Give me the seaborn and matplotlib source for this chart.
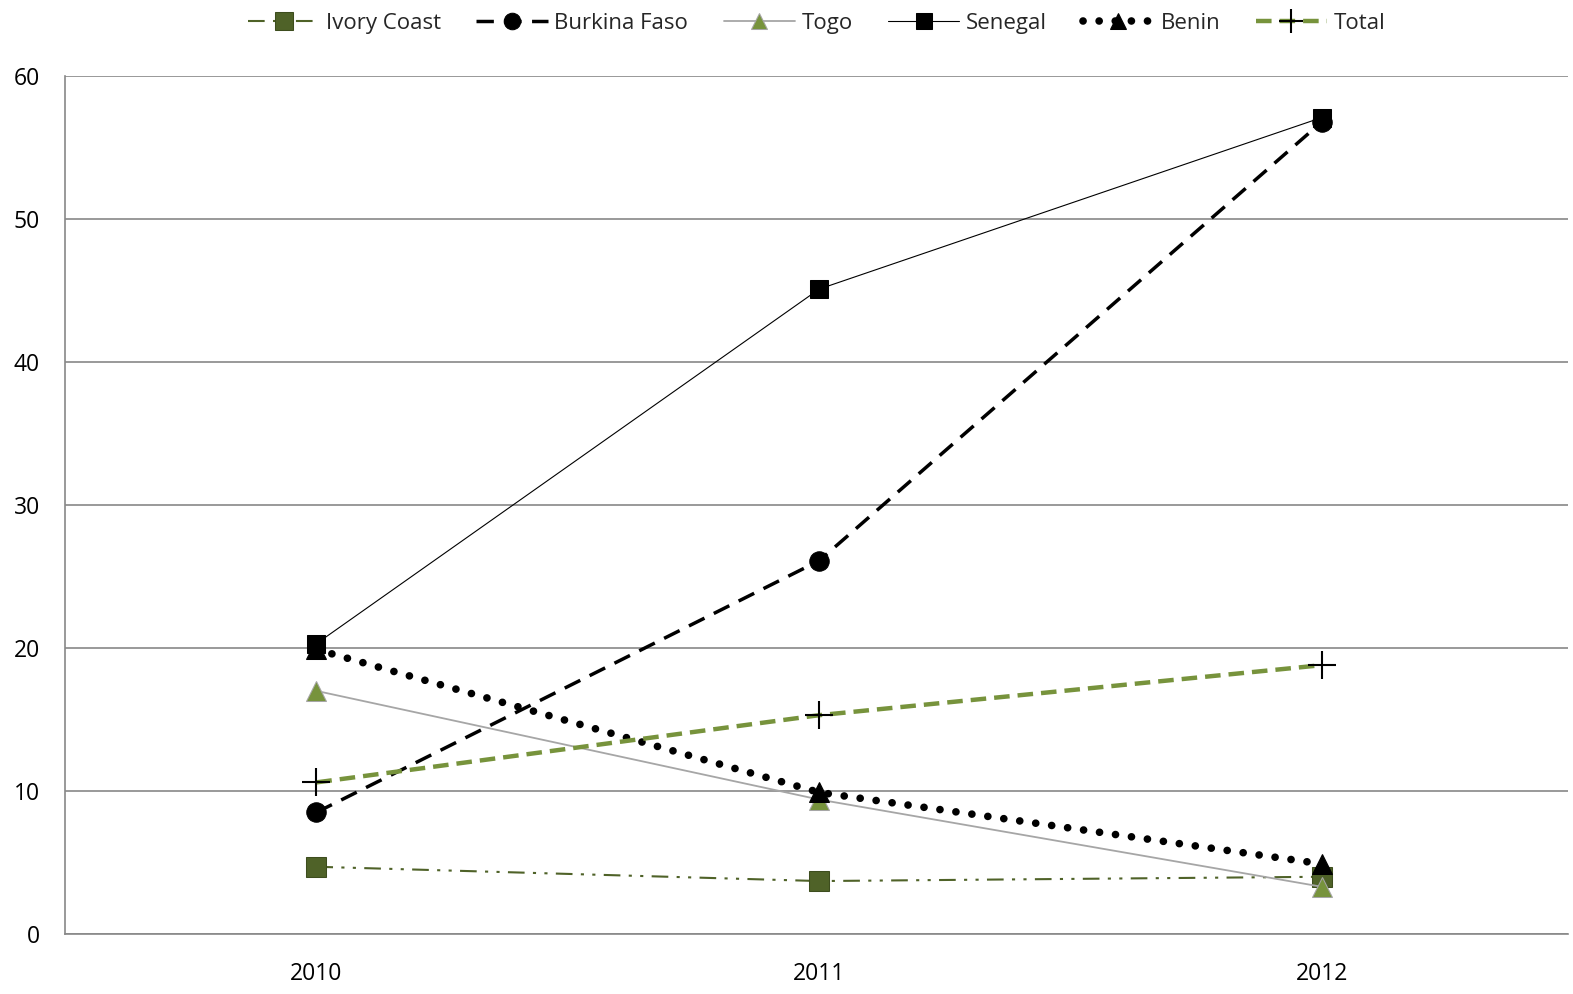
import matplotlib
matplotlib.use("Agg")
import matplotlib.pyplot as plt
import seaborn as sns
import pandas as pd

years = ["2010", "2011", "2012"]
ivory_coast = [4.7, 3.7, 4.0]
burkina_faso = [8.5, 26.1, 56.8]
togo = [17.0, 9.4, 3.3]
senegal = [20.3, 45.1, 57.1]
benin = [19.9, 9.9, 4.9]
total = [10.6, 15.3, 18.8]

series = {
    "Ivory Coast": ivory_coast,
    "Burkina Faso": burkina_faso,
    "Togo": togo,
    "Senegal": senegal,
    "Benin": benin,
    "Total": total,
}

styles = {
    "Ivory Coast": dict(color="#4F6228", lw=1.5, ls=(0, (8, 4, 1.5, 4, 1.5, 4)),
                        marker="s", ms=15, mfc="#4F6228", mec="#3d4d1e"),
    "Burkina Faso": dict(color="black", lw=2.5, ls=(0, (5, 3)),
                         marker="o", ms=14, mfc="black", mec="black"),
    "Togo": dict(color="#A6A6A6", lw=1.3, ls="-",
                 marker="^", ms=14, mfc="#77933C", mec="#A6A6A6"),
    "Senegal": dict(color="black", lw=0.8, ls="-",
                    marker="s", ms=13, mfc="black", mec="black"),
    "Benin": dict(color="black", lw=5.5, ls=(0, (0.01, 2.1)), dash_capstyle="round",
                  marker="^", ms=14, mfc="black", mec="black"),
    "Total": dict(color="#77933C", lw=3.2, ls=(0, (3.5, 1.8)),
                  marker="+", ms=20, mfc="black", mec="black", mew=1.5),
}

df = pd.DataFrame({
    "year": years * len(series),
    "x": list(range(len(years))) * len(series),
    "value": [v for vals in series.values() for v in vals],
    "country": [name for name, vals in series.items() for _ in vals],
})

sns.set_theme(style="white")
plt.rcParams["font.family"] = ["Open Sans", "DejaVu Sans"]

fig, ax = plt.subplots(figsize=(15.73, 9.94), dpi=100)
fig.subplots_adjust(left=0.0413, right=0.997, top=0.9235, bottom=0.0604)

for name in series:
    sub = df[df["country"] == name]
    st = dict(styles[name])
    sns.lineplot(data=sub, x="x", y="value", ax=ax, label=name,
                 color=st.pop("color"), linewidth=st.pop("lw"),
                 linestyle=st.pop("ls"), marker=st.pop("marker"),
                 markersize=st.pop("ms"), markerfacecolor=st.pop("mfc"),
                 markeredgecolor=st.pop("mec"), **st)

ax.set_xlim(-0.5, 2.49)
ax.set_ylim(0, 60)
ax.set_yticks(range(0, 61, 10))
ax.set_xticks(range(len(years)))
ax.set_xticklabels(years)
ax.set_xlabel("")
ax.set_ylabel("")
ax.yaxis.grid(True, color="#888888", linewidth=1.2)
ax.xaxis.grid(False)
for side in ["top", "right"]:
    ax.spines[side].set_visible(False)
for side in ["left", "bottom"]:
    ax.spines[side].set_color("#888888")
    ax.spines[side].set_linewidth(1.2)
ax.tick_params(axis="both", labelsize=16.5, colors="black", length=0)
ax.tick_params(axis="y", pad=18)
ax.tick_params(axis="x", pad=20)

handles, labels = ax.get_legend_handles_labels()
ax.legend(handles, labels, loc="upper center", bbox_to_anchor=(0.5, 1.097),
          ncol=6, frameon=False, fontsize=16, handlelength=3.2,
          columnspacing=1.6, handletextpad=0.3, markerscale=0.85)

fig.savefig("out.png", dpi=100)
